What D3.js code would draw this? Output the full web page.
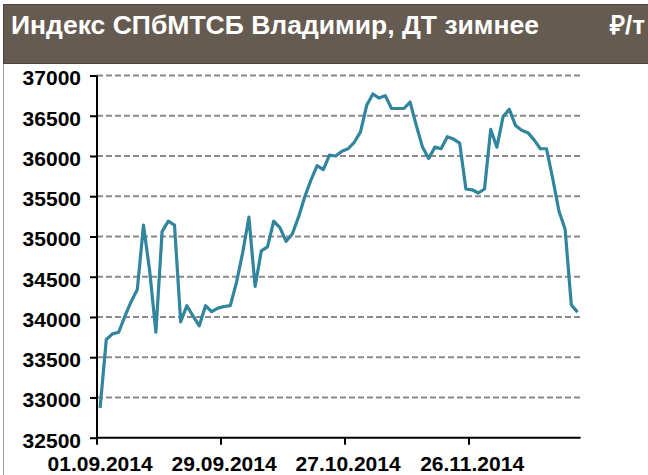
<!DOCTYPE html>
<html><head><meta charset="utf-8">
<script src="https://cdn.jsdelivr.net/npm/d3@7"></script>
<style>html,body{margin:0;padding:0;background:#fff;overflow:hidden}svg{display:block}</style>
</head><body>
<script>
const titleText = "Индекс СПбМТСБ Владимир, ДТ зимнее";
const unitText = "₽/т";
const categories = [
 "01.09.2014","02.09.2014","03.09.2014","04.09.2014","05.09.2014",
 "08.09.2014","09.09.2014","10.09.2014","11.09.2014","12.09.2014",
 "15.09.2014","16.09.2014","17.09.2014","18.09.2014","19.09.2014",
 "22.09.2014","23.09.2014","24.09.2014","25.09.2014","26.09.2014",
 "29.09.2014","30.09.2014","01.10.2014","02.10.2014","03.10.2014",
 "06.10.2014","07.10.2014","08.10.2014","09.10.2014","10.10.2014",
 "13.10.2014","14.10.2014","15.10.2014","16.10.2014","17.10.2014",
 "20.10.2014","21.10.2014","22.10.2014","23.10.2014","24.10.2014",
 "27.10.2014","28.10.2014","29.10.2014","30.10.2014","31.10.2014",
 "05.11.2014","06.11.2014","07.11.2014",
 "10.11.2014","11.11.2014","12.11.2014","13.11.2014","14.11.2014",
 "17.11.2014","18.11.2014","19.11.2014","20.11.2014","21.11.2014",
 "24.11.2014","25.11.2014","26.11.2014","27.11.2014","28.11.2014",
 "01.12.2014","02.12.2014","03.12.2014","04.12.2014","05.12.2014",
 "08.12.2014","09.12.2014","10.12.2014","11.12.2014","12.12.2014",
 "15.12.2014","16.12.2014","17.12.2014","18.12.2014","19.12.2014"
];
const values = [
 32870,33720,33790,33810,34010,34190,34340,35140,34570,33810,
 35060,35190,35140,33940,34140,34010,33890,34140,34065,34110,
 34130,34140,34430,34800,35240,34380,34820,34870,35190,35110,
 34940,35030,35240,35490,35700,35880,35830,36010,36000,36060,
 36090,36170,36300,36630,36770,36720,36750,36590,36590,36590,
 36670,36380,36110,35970,36110,36090,36240,36210,36160,35590,
 35580,35540,35590,36330,36110,36490,36580,36380,36320,36290,
 36200,36090,36090,35720,35320,35090,34150,34060
];
const yTicks = [32500,33000,33500,34000,34500,35000,35500,36000,36500,37000];
const xLabelCategories = ["01.09.2014","29.09.2014","27.10.2014","26.11.2014"];

const W = 648, H = 475;
const svg = d3.select("body").append("svg").attr("width", W).attr("height", H);
const font = "'Liberation Sans', Arial, sans-serif";

// left frame line
svg.append("line").attr("x1",3.5).attr("x2",3.5).attr("y1",64).attr("y2",H)
  .attr("stroke","#a0a0a0").attr("stroke-width",1);

// title bar
svg.append("rect").attr("x",3.5).attr("y",4.5).attr("width",W).attr("height",59)
  .attr("fill","#665b51").attr("stroke","#4d443d").attr("stroke-width",1);
svg.append("text").attr("x",11).attr("y",34).attr("fill","#fff")
  .attr("font-family",font).attr("font-weight","bold").attr("font-size",26)
  .attr("textLength",528).attr("lengthAdjust","spacingAndGlyphs").text(titleText);
svg.append("text").attr("x",610).attr("y",34).attr("fill","#fff")
  .attr("font-family",font).attr("font-weight","bold").attr("font-size",26).text(unitText);

const x = d3.scaleBand().domain(categories).range([97, 580.6]).paddingInner(0).paddingOuter(0);
const y = d3.scaleLinear().domain([32500, 37000]).range([437.7, 75.5]);
const cx = c => x(c) + x.bandwidth()/2;

// gridlines
svg.append("g").selectAll("line").data(yTicks.filter(t => t > 32500)).join("line")
  .attr("x1", 97).attr("x2", 580.6).attr("y1", d => y(d)).attr("y2", d => y(d))
  .attr("stroke","#8a8a8a").attr("stroke-width",2).attr("stroke-dasharray","6,3");

// y axis
const yAxis = svg.append("g").attr("transform","translate(97,0)")
  .call(d3.axisLeft(y).tickValues(yTicks).tickFormat(d3.format("d")).tickSize(7).tickPadding(9));
yAxis.select(".domain").attr("stroke","#000").attr("stroke-width",2).attr("d", `M0,${y(37000)}V${y(32500)}`);
yAxis.selectAll(".tick line").attr("stroke","#000").attr("stroke-width",2);
yAxis.selectAll(".tick text").attr("font-family",font).attr("font-weight","bold")
  .attr("font-size",21).attr("fill","#000").attr("dy","0.45em");

// x axis
const xAxis = svg.append("g").attr("transform",`translate(0,${y(32500)})`)
  .call(d3.axisBottom(x).tickValues(xLabelCategories).tickSize(0).tickPadding(18));
xAxis.select(".domain").attr("stroke","#000").attr("stroke-width",2)
  .attr("d", `M97,0H580.6`);
xAxis.selectAll(".tick text").attr("font-family",font).attr("font-weight","bold")
  .attr("font-size",21).attr("fill","#000").attr("dy","0.71em");
// tick marks at category boundaries
xAxis.append("g").selectAll("line").data(xLabelCategories).join("line")
  .attr("x1", d => x(d)).attr("x2", d => x(d)).attr("y1",0).attr("y2",7)
  .attr("stroke","#000").attr("stroke-width",2);

// line
const line = d3.line().x((d,i) => cx(categories[i])).y(d => y(d));
svg.append("path").datum(values).attr("d", line).attr("fill","none")
  .attr("stroke","#31859c").attr("stroke-width",3.2).attr("stroke-linejoin","round");
</script>
</body></html>
